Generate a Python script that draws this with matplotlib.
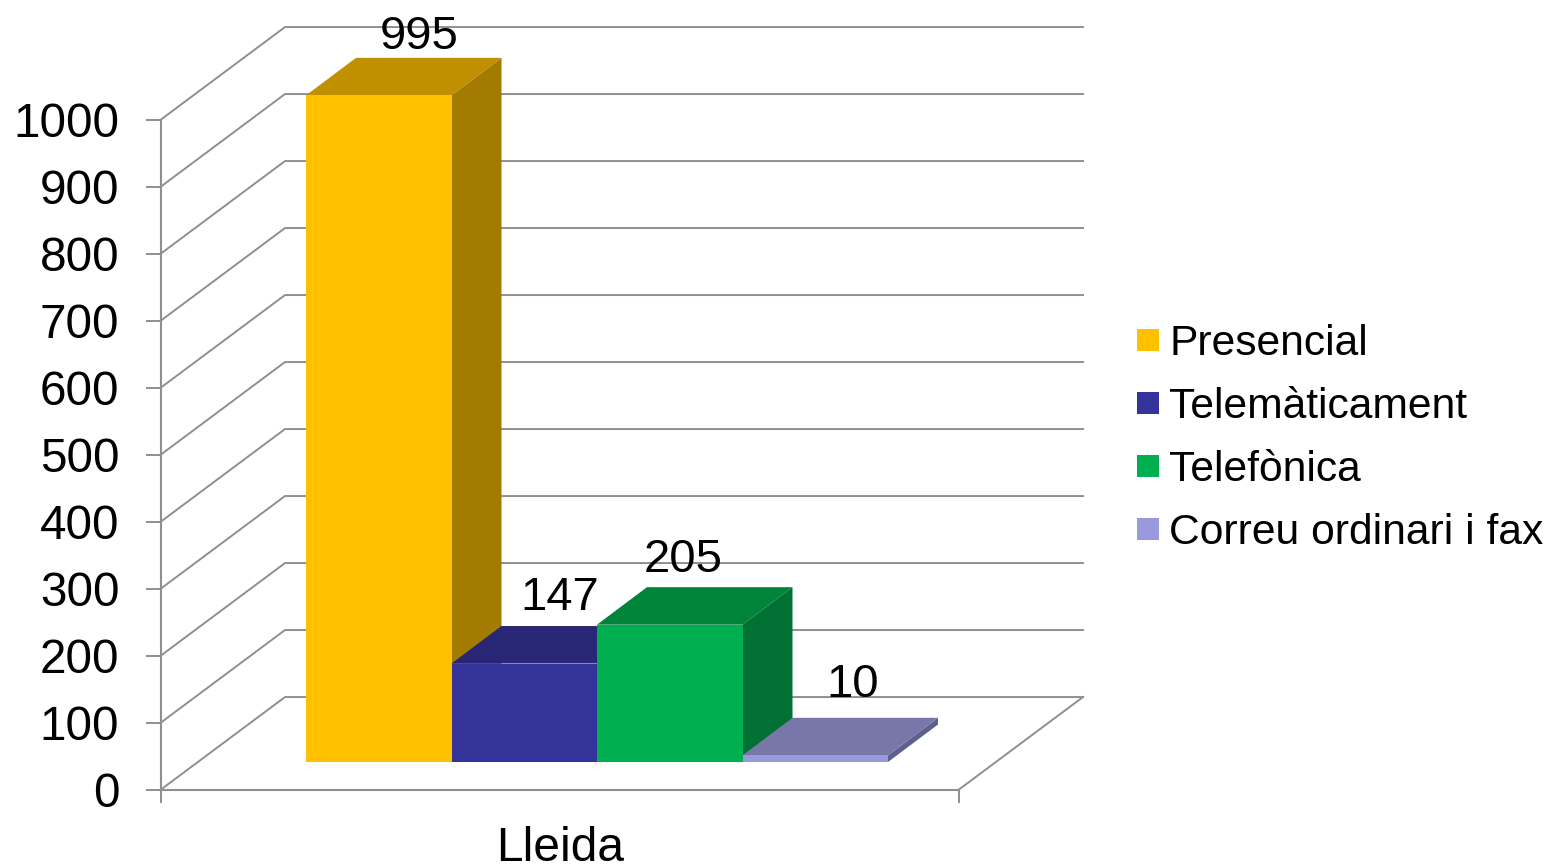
import matplotlib
matplotlib.use('Agg')
import matplotlib.pyplot as plt
from matplotlib.patches import Patch, Polygon

plt.rcParams['font.family'] = ['Liberation Sans', 'DejaVu Sans']

# Data
categories = ['Lleida']
series = ['Presencial', 'Telemàticament', 'Telefònica', 'Correu ordinari i fax']
values = [995, 147, 205, 10]
yticks = [0, 100, 200, 300, 400, 500, 600, 700, 800, 900, 1000]

# Face colours of each bar
front_cols = ['#FFC000', '#333399', '#00B050', '#9999DD']
top_cols = ['#C09000', '#272775', '#008439', '#7777AA']
side_cols = ['#A37B00', '#20205F', '#007033', '#5F5F8F']
grid_col = '#8F8F8F'

# Plot geometry in axis units
wall_dx, wall_dy = 124 / 798, 138
bar_dx, bar_dy = 50 / 798, 56
bar_x0, bar_y0 = 145 / 798, 41
bar_w = 145.5 / 798

# Nudges of the value labels, in pixels
label_dx = [-10, -14, -37, -13]
label_dy = [-5, 2, 1, 7]

W, H = 1550, 865
fig = plt.figure(figsize=(W / 100, H / 100), dpi=100)
ax = fig.add_axes([161 / W, 1 - 789.5 / H, 798 / W, 670 / H])
ax.set_xlim(0, 1)
ax.set_ylim(0, 1000)
ax.patch.set_visible(False)

# Walls and floor
for v in yticks:
    ax.plot([0, wall_dx, 1 + wall_dx], [v, v + wall_dy, v + wall_dy],
            color=grid_col, lw=1.4, clip_on=False, zorder=1)
ax.plot([1, 1 + wall_dx], [0, wall_dy], color=grid_col, lw=1.4, clip_on=False, zorder=1)

# Bars
for i, v in enumerate(values):
    x0 = bar_x0 + i * bar_w
    x1 = x0 + bar_w
    y1 = bar_y0 + v
    ax.add_patch(Polygon([(x1, bar_y0), (x1 + bar_dx, bar_y0 + bar_dy),
                          (x1 + bar_dx, y1 + bar_dy), (x1, y1)],
                         fc=side_cols[i], ec='none', clip_on=False, zorder=2 + i))
    ax.add_patch(Polygon([(x0, y1), (x0 + bar_dx, y1 + bar_dy),
                          (x1 + bar_dx, y1 + bar_dy), (x1, y1)],
                         fc=top_cols[i], ec='none', clip_on=False, zorder=2 + i))
    ax.add_patch(Polygon([(x0, bar_y0), (x1, bar_y0), (x1, y1), (x0, y1)],
                         fc=front_cols[i], ec='none', clip_on=False, zorder=2 + i))
    ax.annotate(str(v), (x0 + bar_w / 2 + bar_dx, y1 + bar_dy + 6),
                xytext=(label_dx[i] * 0.72, label_dy[i] * 0.72), textcoords='offset points',
                ha='center', va='bottom', fontsize=34, color='black',
                annotation_clip=False, zorder=10)

# Axes
for name in ['top', 'right']:
    ax.spines[name].set_visible(False)
for name in ['left', 'bottom']:
    ax.spines[name].set_color(grid_col)
    ax.spines[name].set_linewidth(1.5)
ax.set_yticks(yticks)
ax.set_xticks([0, 1])
ax.set_xticklabels([])
ax.tick_params(axis='y', labelsize=34.3, length=11, width=1.4, color=grid_col, pad=19)
ax.tick_params(axis='x', length=9, width=1.4, color=grid_col)
ax.text(0.5, -0.1065, categories[0], ha='center', va='baseline', fontsize=34.5,
        transform=ax.transAxes, clip_on=False)

# Legend
handles = [Patch(fc=c, ec='none') for c in front_cols]
fig.legend(handles, series, loc='center left', bbox_to_anchor=(1137 / W, 1 - 438.5 / H),
           frameon=False, fontsize=30.7, handlelength=0.516, handleheight=0.417,
           handletextpad=0.235, labelspacing=0.54, borderpad=0, borderaxespad=0)

fig.savefig('out.png', dpi=100)
